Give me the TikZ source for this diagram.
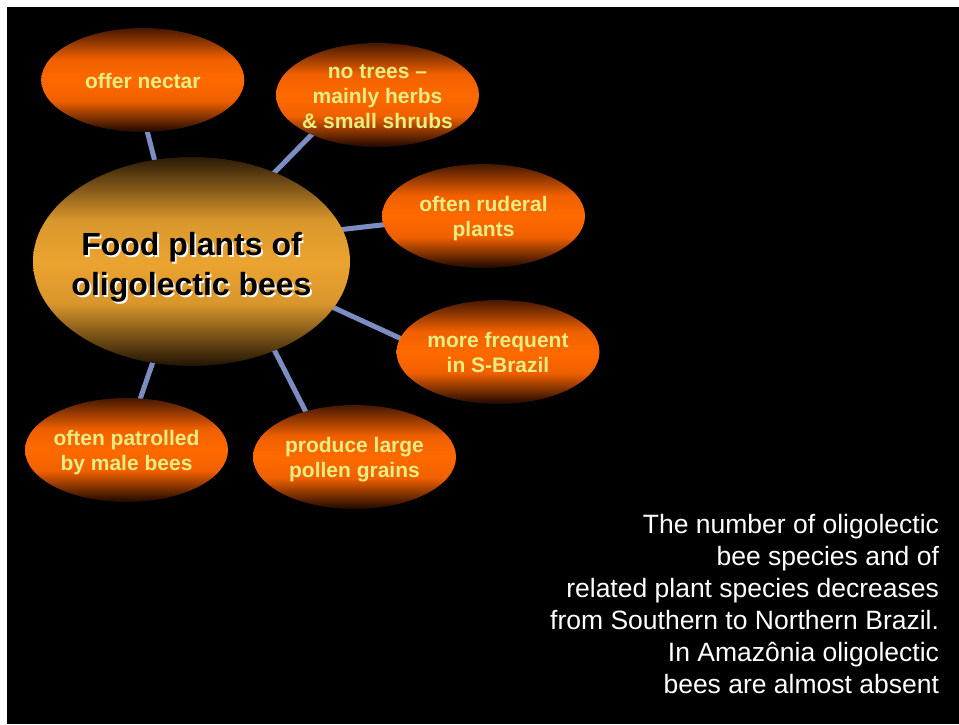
\documentclass[tikz,border=0pt]{standalone}
\usepackage{fontspec}
\setmainfont{Liberation Sans}
\usetikzlibrary{shapes.geometric}
\pgfdeclarelayer{back}
\pgfdeclarelayer{lines}
\pgfsetlayers{back,lines,main}
\definecolor{ortop}{HTML}{451800}
\definecolor{orbot}{HTML}{1C0800}
\definecolor{ormid}{HTML}{F06000}
\definecolor{orcen}{HTML}{FF6A00}
\definecolor{gdtop}{HTML}{2A1A06}
\definecolor{gdbot}{HTML}{201304}
\definecolor{gdmid}{HTML}{D8962C}
\definecolor{gdcen}{HTML}{ECA430}
\definecolor{connc}{HTML}{7B8DC2}
\definecolor{lbltxt}{HTML}{E6EE82}
\pgfdeclareverticalshading{orangesh}{100bp}{color(0bp)=(orbot); color(25bp)=(orbot); color(40bp)=(ormid); color(50bp)=(orcen); color(60bp)=(ormid); color(75bp)=(ortop); color(100bp)=(ortop)}
\pgfdeclareverticalshading{goldsh}{100bp}{color(0bp)=(gdbot); color(25bp)=(gdbot); color(40bp)=(gdmid); color(50bp)=(gdcen); color(60bp)=(gdmid); color(75bp)=(gdtop); color(100bp)=(gdtop)}
\newcommand\elltext[1]{\smash{\makebox[0pt]{\raisebox{-0.39em}{\begin{tabular}{@{}c@{}}#1\end{tabular}}}}}
\newcommand\shd[1]{\makebox[0pt][l]{\hspace{1.8pt}\raisebox{-1.8pt}{\color{white}#1}}#1}
\tikzset{
  outer/.style={ellipse, inner sep=0pt, outer sep=0pt, shade, shading=orangesh, shading angle=0,
    minimum width=203pt, minimum height=104pt, text=lbltxt,
    font=\bfseries\fontsize{21}{25}\selectfont},
  hub/.style={ellipse, inner sep=0pt, outer sep=0pt, shade, shading=goldsh, shading angle=0,
    minimum width=317pt, minimum height=209pt, text=black,
    font=\bfseries\fontsize{32}{40}\selectfont},
  conn/.style={draw=connc, line width=5pt, shorten <=-4pt, shorten >=-4pt},
  note/.style={inner sep=0pt, outer sep=0pt, text=white, font=\fontsize{26.5}{32}\selectfont}
}
\begin{document}
\begin{tikzpicture}[x=1pt,y=-1pt]
\useasboundingbox (0,0) rectangle (959,724);
\begin{pgfonlayer}{back}
  \fill[white] (0,0) rectangle (959,724);
  \fill[black] (7,7) rectangle (959,724);
\end{pgfonlayer}
\node[hub] (c) at (191.5,261.5) {\elltext{\shd{Food plants of}\\\shd{oligolectic bees}}};
\node[outer] (n1) at (142.8,80) {\elltext{offer nectar}};
\node[outer] (n2) at (377.5,95) {\elltext{no trees --\\mainly herbs\\\& small shrubs}};
\node[outer] (n3) at (483.5,216) {\elltext{often ruderal\\plants}};
\node[outer] (n4) at (498,352) {\elltext{more frequent\\in S-Brazil}};
\node[outer] (n5) at (354.5,457) {\elltext{produce large\\pollen grains}};
\node[outer] (n6) at (126.5,450) {\elltext{often patrolled\\by male bees}};
\begin{pgfonlayer}{lines}
  \draw[conn] (c.110.7) -- (n1.-85.8);
  \draw[conn] (c.47.6) -- (n2.-149.4);
  \draw[conn] (c.12.0) -- (n3.185.7);
  \draw[conn] (c.-18.6) -- (n4.172.8);
  \draw[conn] (c.-47.2) -- (n5.137.5);
  \draw[conn] (c.-111.8) -- (n6.75.8);
\end{pgfonlayer}
\node[note, anchor=base east] (txt) at (939,533) {\begin{tabular}[t]{@{}r@{}}The number of oligolectic\\bee species and of\\related plant species decreases\\from Southern to Northern Brazil.\\In Amazônia oligolectic\\bees are almost absent\end{tabular}};
\end{tikzpicture}
\end{document}
